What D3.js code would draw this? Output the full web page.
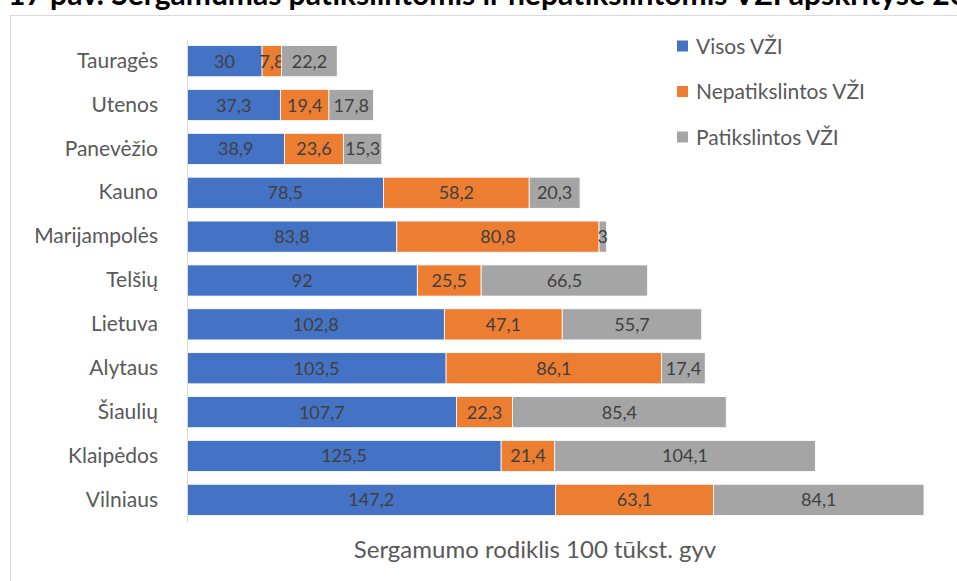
<!DOCTYPE html>
<html>
  <head>
    <meta charset="utf-8">
    <title>VŽI apskrityse</title>
    <style media="screen">
      body {margin:0; background:#fff}
      text {font-family: Lato, "Open Sans", sans-serif}
    </style>
  </head>
  <body>
    <script src="https://cdn.jsdelivr.net/npm/d3@7"></script>
    <script type="text/javascript">

    const categories = ['Tauragės', 'Utenos', 'Panevėžio', 'Kauno', 'Marijampolės', 'Telšių',
      'Lietuva', 'Alytaus', 'Šiaulių', 'Klaipėdos', 'Vilniaus']
    const seriesNames = ['Visos VŽI', 'Nepatikslintos VŽI', 'Patikslintos VŽI']
    const visos = [30, 37.3, 38.9, 78.5, 83.8, 92, 102.8, 103.5, 107.7, 125.5, 147.2]
    const nepatikslintos = [7.8, 19.4, 23.6, 58.2, 80.8, 25.5, 47.1, 86.1, 22.3, 21.4, 63.1]
    const patikslintos = [22.2, 17.8, 15.3, 20.3, 3, 66.5, 55.7, 17.4, 85.4, 104.1, 84.1]
    const colors = ['#4472c4', '#ed7d31', '#a5a5a5']
    const title = '17 pav. Sergamumas patikslintomis ir nepatikslintomis VŽI apskrityse 2019 m.'
    const axisTitle = 'Sergamumo rodiklis 100 tūkst. gyv'

    const w = 957, h = 581

    const svg = d3.select('body').append('svg')
      .attr('width', w)
      .attr('height', h)

    // title, cut at the top of the picture as in the source
    svg.append('text')
      .attr('x', 8).attr('y', 5)
      .attr('font-size', 30).attr('font-weight', 'bold')
      .attr('fill', '#000')
      .text(title)

    // chart frame
    svg.append('rect')
      .attr('x', 10.5).attr('y', 15.5)
      .attr('width', 1000).attr('height', 700)
      .attr('fill', '#fff').attr('stroke', '#d9d9d9')

    const table = categories.map((c, i) => ({
      cat: c, v0: visos[i], v1: nepatikslintos[i], v2: patikslintos[i]
    }))
    const stacked = d3.stack().keys(['v0', 'v1', 'v2'])(table)

    const x = d3.scaleLinear().domain([0, 294.4]).range([187, 924])
    const y = d3.scaleBand().domain(categories).range([39, 522]).paddingInner(0.29).paddingOuter(0.15)

    const layers = svg.append('g').selectAll('g')
      .data(stacked).join('g')
      .attr('fill', (d, i) => colors[i])

    layers.selectAll('rect')
      .data(d => d).join('rect')
      .attr('x', d => x(d[0]))
      .attr('y', d => y(d.data.cat))
      .attr('width', d => x(d[1]) - x(d[0]))
      .attr('height', y.bandwidth())
      .attr('stroke', '#fff').attr('stroke-width', 0.8)

    layers.selectAll('text')
      .data(d => d).join('text')
      .attr('x', d => (x(d[0]) + x(d[1])) / 2)
      .attr('y', d => y(d.data.cat) + y.bandwidth() / 2)
      .attr('dy', '0.36em')
      .attr('text-anchor', 'middle')
      .attr('font-size', 18)
      .attr('fill', '#404040')
      .text(d => String(Math.round((d[1] - d[0]) * 10) / 10).replace('.', ','))

    // category axis
    const yAxis = svg.append('g')
      .attr('transform', 'translate(187,0)')
      .call(d3.axisLeft(y).tickSize(0).tickPadding(29))
    yAxis.select('.domain').attr('stroke', '#d9d9d9')
    yAxis.selectAll('text')
      .attr('font-size', 21).attr('fill', '#595959')
      .attr('font-family', 'Lato, "Open Sans", sans-serif')

    // legend
    const legend = svg.append('g').selectAll('g')
      .data(seriesNames).join('g')
      .attr('transform', (d, i) => `translate(677,${46 + i * 45.5})`)
    legend.append('rect')
      .attr('x', 0).attr('y', -5.5).attr('width', 11).attr('height', 11)
      .attr('fill', (d, i) => colors[i])
    legend.append('text')
      .attr('x', 19).attr('dy', '0.36em')
      .attr('font-size', 21).attr('fill', '#595959')
      .text(d => d)

    svg.append('text')
      .attr('x', 535).attr('y', 558)
      .attr('text-anchor', 'middle')
      .attr('font-size', 24).attr('fill', '#595959')
      .text(axisTitle)

    </script>
  </body>
</html>
